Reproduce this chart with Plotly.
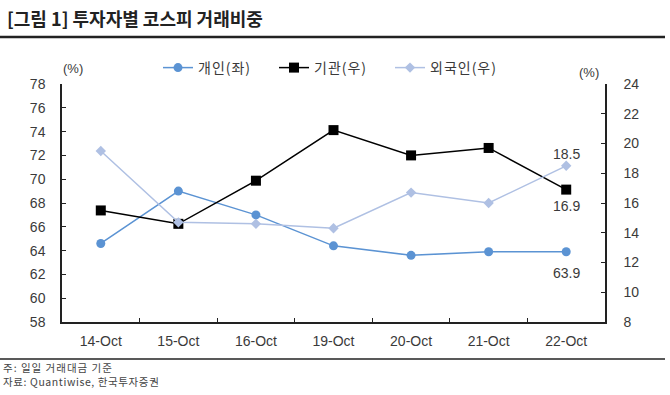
import plotly.graph_objects as go

dates = ["14-Oct", "15-Oct", "16-Oct", "19-Oct", "20-Oct", "21-Oct", "22-Oct"]
retail = [64.6, 69.0, 67.0, 64.4, 63.6, 63.9, 63.9]        # 개인(좌)
institution = [15.5, 14.6, 17.5, 20.9, 19.2, 19.7, 16.9]   # 기관(우)
foreign = [19.5, 14.7, 14.6, 14.3, 16.7, 16.0, 18.5]       # 외국인(우)

left_ticks = list(range(58, 79, 2))
right_ticks = list(range(8, 25, 2))

FONT = "Liberation Sans, Noto Sans CJK KR, sans-serif"
KFONT = "Noto Sans CJK KR, sans-serif"
TXT = "#3a3a3a"
BLUE = "#5B93D3"
LIGHT = "#AFC0E3"

def spaced(s, sp=1):
    return f'<span style="letter-spacing:{sp}px">{s}</span>'

fig = go.Figure()
fig.add_trace(go.Scatter(
    x=dates, y=retail, name=spaced("개인(좌)"), mode="lines+markers",
    line=dict(color=BLUE, width=1.5),
    marker=dict(symbol="circle", size=9, color=BLUE), yaxis="y"))
fig.add_trace(go.Scatter(
    x=dates, y=institution, name=spaced("기관(우)"), mode="lines+markers",
    line=dict(color="#000000", width=1.5),
    marker=dict(symbol="square", size=10, color="#000000"), yaxis="y2"))
fig.add_trace(go.Scatter(
    x=dates, y=foreign, name=spaced("외국인(우)"), mode="lines+markers",
    line=dict(color=LIGHT, width=1.5),
    marker=dict(symbol="diamond", size=8, color=LIGHT), yaxis="y2"))

L, R, T, B = 62, 65, 84, 73
W, H = 670, 395
pw, ph = W - L - R, H - T - B

def px(xp):
    return (xp - L) / pw

def py(yp):
    return (H - B - yp) / ph

axis_common = dict(showgrid=False, zeroline=False, showline=True, linecolor="#222222",
                   linewidth=1.5, ticks="inside", ticklen=4, tickcolor="#222222",
                   tickfont=dict(size=14, color=TXT), fixedrange=True)

fig.update_layout(
    width=W, height=H,
    margin=dict(l=L, r=R, t=T, b=B),
    paper_bgcolor="white", plot_bgcolor="white",
    font=dict(family=FONT, size=12, color=TXT),
    showlegend=True,
    legend=dict(orientation="h", x=px(158), xanchor="left", y=py(68), yanchor="middle",
                font=dict(family=KFONT, size=14, color=TXT),
                itemwidth=30, entrywidth=71, entrywidthmode="pixels",
                traceorder="normal", bgcolor="rgba(0,0,0,0)"),
    xaxis=dict(type="category", range=[-0.5, 6.5], tickson="boundaries",
               ticklabelstandoff=5, **axis_common),
    yaxis=dict(range=[58, 78], tickvals=left_ticks, ticklabelstandoff=12, **axis_common),
    yaxis2=dict(range=[8, 24], tickvals=right_ticks, overlaying="y", side="right",
                ticklabelstandoff=14, **axis_common),
)

annotations = [
    dict(text="<b>[그림 1] 투자자별 코스피 거래비중</b>", x=px(5), y=py(18), xanchor="left",
         yanchor="middle", font=dict(family=KFONT, size=18, color="#222222")),
    dict(text="(%)", x=px(73), y=py(68), xanchor="center", yanchor="middle",
         font=dict(size=13, color=TXT)),
    dict(text="(%)", x=px(589), y=py(73), xanchor="center", yanchor="middle",
         font=dict(size=13, color=TXT)),
    dict(text=spaced("주: 일일 거래대금 기준", 1), x=px(1), y=py(367),
         xanchor="left", yanchor="middle", font=dict(family=KFONT, size=10.5, color="#444444")),
    dict(text=spaced("자료: Quantiwise, 한국투자증권", 0.6), x=px(1), y=py(381),
         xanchor="left", yanchor="middle", font=dict(family=KFONT, size=10.5, color="#444444")),
]
for a in annotations:
    a.update(xref="paper", yref="paper", showarrow=False)

# data labels on the last point of each series
for vals, yref, shift in [(foreign, "y2", 12), (institution, "y2", -16), (retail, "y", -21)]:
    annotations.append(dict(text=f"{vals[-1]:.1f}", x=dates[-1], y=vals[-1], xref="x", yref=yref,
                            yshift=shift, showarrow=False, xanchor="center", yanchor="middle",
                            font=dict(family=FONT, size=14, color=TXT)))

fig.update_layout(annotations=annotations)

fig.update_layout(shapes=[
    dict(type="line", xref="paper", yref="paper", x0=px(0), x1=px(665), y0=py(37), y1=py(37),
         line=dict(color="#222222", width=2.5)),
    dict(type="line", xref="paper", yref="paper", x0=px(0), x1=px(665), y0=py(359), y1=py(359),
         line=dict(color="#222222", width=1.5)),
])

fig.write_html("out.html", config={"displayModeBar": False},
               post_script="document.body.style.margin='0';document.body.style.padding='0';")
